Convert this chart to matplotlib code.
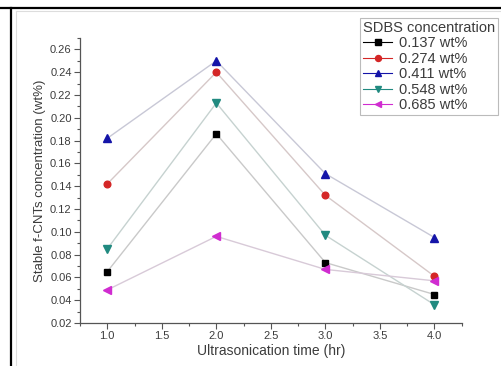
import matplotlib
matplotlib.use("Agg")
import matplotlib.pyplot as plt
from matplotlib.lines import Line2D
from matplotlib.ticker import MultipleLocator

plt.rcParams['font.family'] = ['Liberation Sans', 'DejaVu Sans']

time_hr = [1.0, 2.0, 3.0, 4.0]
labels = ["0.137 wt%", "0.274 wt%", "0.411 wt%", "0.548 wt%", "0.685 wt%"]
s0137 = [0.065, 0.186, 0.073, 0.045]
s0274 = [0.142, 0.240, 0.132, 0.061]
s0411 = [0.182, 0.250, 0.151, 0.095]
s0548 = [0.085, 0.213, 0.097, 0.036]
s0685 = [0.049, 0.096, 0.067, 0.057]
series = [s0137, s0274, s0411, s0548, s0685]

colors = ['#000000', '#d42626', '#1414a8', '#218a80', '#d02cd0']
line_colors = ['#c9c9c9', '#d6c8c8', '#c8c8d6', '#c6d2d0', '#d8cad8']
markers = ['s', 'o', '^', 'v', '<']
msizes = [4.2, 4.8, 5.2, 5.2, 5.2]
text_color = '#3c3c3c'

fig = plt.figure(figsize=(5.02, 3.66), dpi=100)
ax = fig.add_axes([80/502, 1-323/366, (461.7-80)/502, (323-38)/366])

for ys, c, lc, m, ms, lab in zip(series, colors, line_colors, markers, msizes, labels):
    ax.plot(time_hr, ys, color=lc, lw=1.0, zorder=1)
    ax.plot(time_hr, ys, linestyle='none', marker=m, ms=ms, color=c, zorder=3)

ax.set_xlim(0.75, 4.25)
ax.set_ylim(0.02, 0.27)
ax.xaxis.set_minor_locator(MultipleLocator(0.25))
ax.yaxis.set_minor_locator(MultipleLocator(0.01))
ax.set_xticks([1.0, 1.5, 2.0, 2.5, 3.0, 3.5, 4.0])
ax.set_yticks([0.02 + 0.02*i for i in range(13)])
ax.set_xticklabels([f"{v:.1f}" for v in [1.0, 1.5, 2.0, 2.5, 3.0, 3.5, 4.0]])
ax.set_yticklabels([f"{0.02 + 0.02*i:.2f}" for i in range(13)])

for side in ['top', 'right']:
    ax.spines[side].set_visible(False)
for side in ['left', 'bottom']:
    ax.spines[side].set_color('#555555')
    ax.spines[side].set_linewidth(0.9)

ax.tick_params(axis='both', which='major', direction='out', length=4, width=0.8,
               colors='#555555', labelcolor=text_color, labelsize=8, pad=2)
ax.tick_params(axis='both', which='minor', direction='out', length=2.5, width=0.8,
               colors='#555555')

ax.set_xlabel("Ultrasonication time (hr)", fontsize=10, color=text_color, labelpad=2)
ax.set_ylabel("Stable f-CNTs concentration (wt%)", fontsize=9.5, color=text_color, labelpad=3)

handles = [Line2D([0], [0], color=c, lw=0.8, marker=m, ms=ms * 0.9, markerfacecolor=c,
                  markeredgecolor=c)
           for c, m, ms in zip(colors, markers, msizes)]
leg = fig.legend(handles, labels, title="SDBS concentration", loc='upper left',
                 bbox_to_anchor=(360/502, 1-18/366), fontsize=10.5, title_fontsize=10.5,
                 frameon=True, fancybox=False, handlelength=2.0, handletextpad=0.5,
                 labelspacing=0.1, borderpad=0.2, borderaxespad=0.0, alignment='left')
leg.get_frame().set_edgecolor('#aaaaaa')
leg.get_frame().set_linewidth(0.8)
for t in leg.get_texts():
    t.set_color(text_color)
leg.get_title().set_color(text_color)

# outer frame
fig.add_artist(Line2D([0, 1], [1-7.5/366, 1-7.5/366], transform=fig.transFigure,
                      color='black', lw=1.6))
fig.add_artist(Line2D([11/502, 11/502], [0, 1-7.5/366], transform=fig.transFigure,
                      color='black', lw=1.6))
fig.add_artist(Line2D([16/502, 16/502], [0, 1-10.5/366], transform=fig.transFigure,
                      color='#dddddd', lw=0.8))
fig.add_artist(Line2D([16/502, 1], [1-10.5/366, 1-10.5/366], transform=fig.transFigure,
                      color='#dddddd', lw=0.8))

fig.savefig("out.png", dpi=100)
